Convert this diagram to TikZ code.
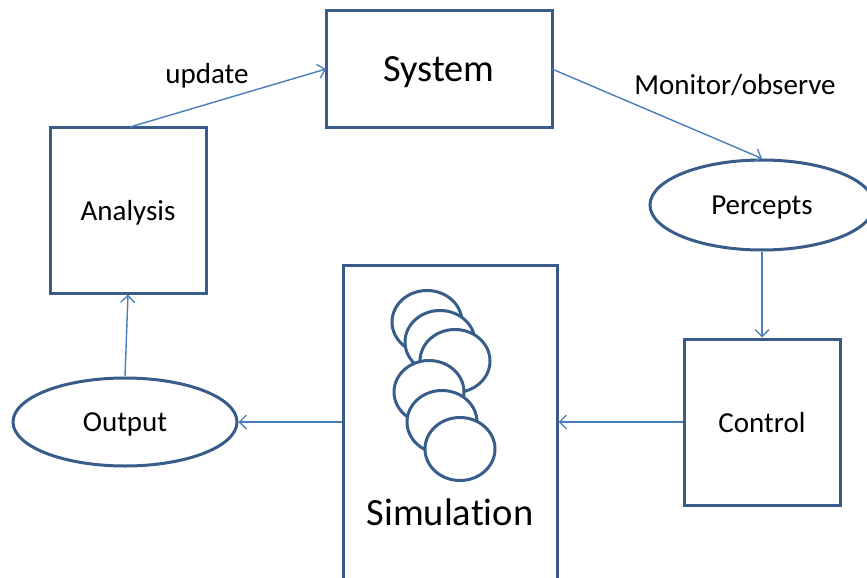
\documentclass[tikz,border=0pt]{standalone}
\usepackage{fontspec}
\setmainfont{Carlito}[Ligatures=NoCommon]
\usetikzlibrary{arrows.meta,shapes.geometric}
\definecolor{bordc}{RGB}{56,93,138}
\definecolor{arrc}{RGB}{74,126,187}
\tikzset{
  boxnode/.style={draw=bordc,line width=3pt,fill=white,rectangle,inner sep=0pt,text depth=0pt},
  ellnode/.style={draw=bordc,line width=3pt,fill=white,ellipse,inner sep=0pt,text depth=0pt},
  circnode/.style={draw=bordc,line width=3pt,fill=white,ellipse,inner sep=0pt,minimum width=70pt,minimum height=63pt},
  conn/.style={draw=arrc,line width=1.4pt,-{Straight Barb[length=7pt,width=14pt,line width=1.3pt]}},
  smalltxt/.style={font=\fontsize{29}{34}\selectfont,text=black},
  bigtxt/.style={font=\fontsize{38.5}{46}\selectfont,text=black}
}
\begin{document}
\begin{tikzpicture}[x=1pt,y=-1pt]
\useasboundingbox (0,0) rectangle (867,578);
\clip (0,0) rectangle (867,578);
\fill[white] (0,0) rectangle (867,578);
% boxes
\node[boxnode,minimum width=226pt,minimum height=116pt,bigtxt] (system) at (439,69) {System};
\node[boxnode,minimum width=156pt,minimum height=166pt,smalltxt] (analysis) at (128,210) {Analysis};
\node[boxnode,minimum width=156pt,minimum height=166pt,smalltxt] (control) at (762,422) {Control};
\node[boxnode,minimum width=214pt,minimum height=330pt] (sim) at (450,430) {};
\node[ellnode,minimum width=224pt,minimum height=90pt,smalltxt] (percepts) at (762,205) {Percepts};
\node[ellnode,minimum width=224pt,minimum height=88pt,smalltxt] (output) at (125,422) {Output};
% circles inside simulation
\node[circnode] (c1) at (427,322) {};
\node[circnode] (c2) at (440,342) {};
\node[circnode] (c3) at (455,361) {};
\node[circnode] (c4) at (429,392) {};
\node[circnode] (c5) at (442,422) {};
\node[circnode] (c6) at (460,449) {};
\node[bigtxt] (simlabel) at (450,512) {Simulation};
% labels
\node[smalltxt] (updlabel) at (207,76) {update};
\node[smalltxt] (monlabel) at (735,85) {Monitor/observe};
% connectors
\coordinate (atop) at (130,127);
\coordinate (sysin) at (326,69);
\draw[conn] (atop) -- (sysin);
\coordinate (sysout) at (552,69);
\draw[conn] (sysout) -- (percepts.north);
\draw[conn] (percepts.south) -- (control.north);
\draw[conn] (control.west) -- (sim.east |- control.west);
\draw[conn] (sim.west |- output.east) -- (output.east);
\draw[conn] (output.north) -- (analysis.south);
\end{tikzpicture}
\end{document}
